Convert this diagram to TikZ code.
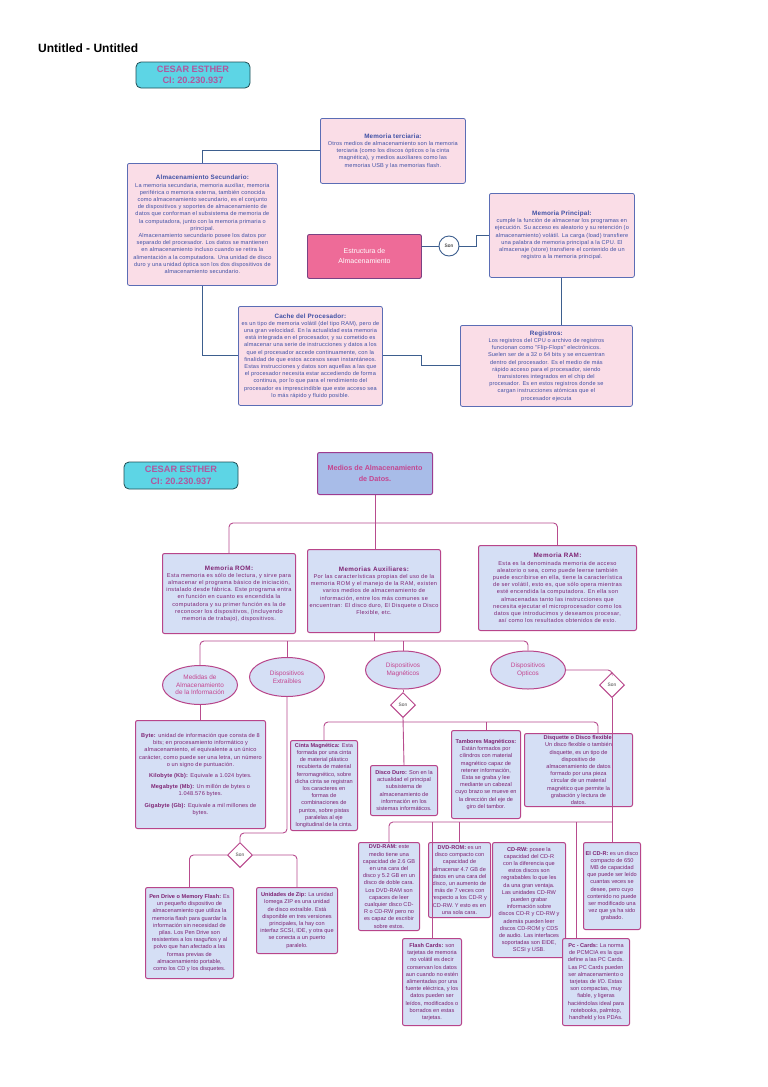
\documentclass[tikz,border=0pt]{standalone}
\usepackage{fontspec}
\setmainfont{Liberation Sans}
\newfontfamily\lsAfam[LetterSpace=3]{Liberation Sans}
\newfontfamily\lsBfam[LetterSpace=6]{Liberation Sans}
\usetikzlibrary{shapes.geometric,calc}
\definecolor{ufill}{HTML}{FADDE7}
\definecolor{ubord}{HTML}{5B6DB5}
\definecolor{utxt}{HTML}{3F51A5}
\definecolor{uline}{HTML}{3D5E8E}
\definecolor{efill}{HTML}{EE6B98}
\definecolor{ebord}{HTML}{7A4283}
\definecolor{lfill}{HTML}{D5DFF5}
\definecolor{lbord}{HTML}{B8458A}
\definecolor{ltxt}{HTML}{7E2373}
\definecolor{etxt}{HTML}{C4458F}
\definecolor{lline}{HTML}{B84C8E}
\definecolor{mfill}{HTML}{A8BCE8}
\definecolor{mbord}{HTML}{9C3C90}
\definecolor{cfill}{HTML}{5DD5E5}
\definecolor{cbord}{HTML}{1F4D55}
\definecolor{ctxt}{HTML}{B0589E}
\newcommand{\boxfont}{\fontsize{5.6}{7.2}\selectfont}
\newcommand{\boxA}{\lsAfam\fontsize{5.6}{7.2}\selectfont}
\newcommand{\boxB}{\lsBfam\fontsize{5.6}{7.2}\selectfont}
\newcommand{\hd}[1]{{\fontsize{6.3}{7.2}\selectfont\bfseries #1}}
\begin{document}
\begin{tikzpicture}[x=1pt,y=-1pt,
 upbox/.style={draw=ubord, fill=ufill, line width=0.8pt, rounded corners=2pt, align=center, text=utxt, font=\boxA, inner sep=1pt, anchor=north west},
 lowbox/.style={draw=lbord, fill=lfill, line width=1pt, rounded corners=2pt, align=center, text=ltxt, font=\boxfont, inner sep=1pt, anchor=north west},
 cesbox/.style={draw=cbord, fill=cfill, line width=0.8pt, rounded corners=5pt, align=center, text=ctxt, font=\fontsize{9.2}{11.5}\selectfont\bfseries, inner sep=0.5pt},
 ell/.style={ellipse, draw=lbord, fill=lfill, line width=1pt, align=center, text=etxt, font=\fontsize{6.4}{7.6}\selectfont, inner sep=0pt, minimum width=75pt, minimum height=39pt},
 sondia/.style={diamond, draw=lbord, fill=white, line width=1pt, font=\fontsize{4.8}{5}\selectfont, text=black!75, inner sep=0pt, minimum width=25pt, minimum height=25pt},
 upl/.style={draw=uline, line width=0.9pt},
 lowl/.style={draw=lline, line width=0.9pt, rounded corners=4pt},
]
\fill[white] (0,0) rectangle (768,1087);
\useasboundingbox (0,0) rectangle (768,1087);

% ---------------- top half ----------------
\node[anchor=base west, font=\fontsize{12}{14}\selectfont\bfseries, inner sep=0pt] (title) at (38,52) {Untitled - Untitled};
\node[cesbox, minimum width=114pt, minimum height=26pt] (ces1) at (193,75) {CESAR ESTHER\\CI: 20.230.937};

\node[upbox, minimum width=145pt, minimum height=65pt] (terc) at (320,118) {\hd{Memoria terciaria:}\\
Otros medios de almacenamiento son la memoria\\
terciaria (como los discos ópticos o la cinta\\
magnética), y medios auxiliares como las\\
memorias USB y las memorias flash.};

\node[upbox, minimum width=150pt, minimum height=122pt] (almsec) at (127,163) {\hd{Almacenamiento Secundario:}\\
La memoria secundaria, memoria auxiliar, memoria\\
periférica o memoria externa, también conocida\\
como almacenamiento secundario, es el conjunto\\
de dispositivos y soportes de almacenamiento de\\
datos que conforman el subsistema de memoria de\\
la computadora, junto con la memoria primaria o\\
principal.\\
Almacenamiento secundario posee los datos por\\
separado del procesador. Los datos se mantienen\\
en almacenamiento incluso cuando se retira la\\
alimentación a la computadora. Una unidad de disco\\
duro y una unidad óptica son los dos dispositivos de\\
almacenamiento secundario.};

\node[draw=ebord, fill=efill, line width=0.9pt, rounded corners=2pt, align=center, text=white, font=\fontsize{7}{10}\selectfont, minimum width=114pt, minimum height=44pt, anchor=north west] (estr) at (307,234) {Estructura de\\Almacenamiento};

\node[circle, draw=uline, fill=white, line width=0.9pt, minimum size=20pt, inner sep=0pt, font=\fontsize{4.8}{5}\selectfont] (son1) at (449,246) {Son};

\node[upbox, minimum width=145pt, minimum height=84pt] (mp) at (489,193) {\hd{Memoria Principal:}\\
cumple la función de almacenar los programas en\\
ejecución. Su acceso es aleatorio y su retención (o\\
almacenamiento) volátil. La carga (load) transfiere\\
una palabra de memoria principal a la CPU. El\\
almacenaje (store) transfiere el contenido de un\\
registro a la memoria principal.};

\node[upbox, minimum width=144pt, minimum height=99pt] (cache) at (238,306) {\hd{Cache del Procesador:}\\
es un tipo de memoria volátil (del tipo RAM), pero de\\
una gran velocidad. En la actualidad esta memoria\\
está integrada en el procesador, y su cometido es\\
almacenar una serie de instrucciones y datos a los\\
que el procesador accede continuamente, con la\\
finalidad de que estos accesos sean instantáneos.\\
Estas instrucciones y datos son aquellas a las que\\
el procesador necesita estar accediendo de forma\\
continua, por lo que para el rendimiento del\\
procesador es imprescindible que este acceso sea\\
lo más rápido y fluido posible.};

\node[upbox, minimum width=172pt, minimum height=81pt] (reg) at (460,325) {\hd{Registros:}\\
Los registros del CPU o archivo de registros\\
funcionan como "Flip-Flops" electrónicos.\\
Suelen ser de a 32 o 64 bits y se encuentran\\
dentro del procesador. Es el medio de más\\
rápido acceso para el procesador, siendo\\
transistores integrados en el chip del\\
procesador. Es en estos registros donde se\\
cargan instrucciones atómicas que el\\
procesador ejecuta};

\draw[upl] (almsec.north) |- (terc.west);
\draw[upl] (almsec.south) |- (cache.west);
\draw[upl] (cache.east) -- ++(39,0) |- (reg.west);
\draw[upl] (estr.east |- son1.west) -- (son1.west);
\draw[upl] (son1.east) -- ++(17,0) |- (mp.west);
\draw[upl] (mp.south) -- (mp.south |- reg.north);

% ---------------- bottom half ----------------
\node[cesbox, minimum width=114pt, minimum height=27pt] (ces2) at (181,475.5) {CESAR ESTHER\\CI: 20.230.937};

\node[draw=mbord, fill=mfill, line width=1pt, rounded corners=2pt, align=center, text=etxt, font=\fontsize{7.2}{11}\selectfont\bfseries, minimum width=115pt, minimum height=42pt, anchor=north west] (medios) at (317,452) {Medios de Almacenamiento\\de Datos.};

\node[lowbox, font=\boxB, minimum width=133pt, minimum height=80pt] (rom) at (162,553) {\hd{Memoria ROM:}\\
Esta memoria es sólo de lectura, y sirve para\\
almacenar el programa básico de iniciación,\\
instalado desde fábrica. Este programa entra\\
en función en cuanto es encendida la\\
computadora y su primer función es la de\\
reconocer los dispositivos, (incluyendo\\
memoria de trabajo), dispositivos.};

\node[lowbox, font=\boxB, minimum width=133pt, minimum height=83pt] (aux) at (307,549) {\hd{Memorias Auxiliares:}\\
Por las características propias del uso de la\\
memoria ROM y el manejo de la RAM, existen\\
varios medios de almacenamiento de\\
información, entre los más comunes se\\
encuentran: El disco duro, El Disquete o Disco\\
Flexible, etc.};

\node[lowbox, font=\boxB, minimum width=158pt, minimum height=85pt] (ram) at (478,545) {\hd{Memoria RAM:}\\
Esta es la denominada memoria de acceso\\
aleatorio o sea, como puede leerse también\\
puede escribirse en ella, tiene la característica\\
de ser volátil, esto es, que sólo opera mientras\\
esté encendida la computadora. En ella son\\
almacenadas tanto las instrucciones que\\
necesita ejecutar el microprocesador como los\\
datos que introducimos y deseamos procesar,\\
así como los resultados obtenidos de esto.};

\node[ell] (e1) at (200,685) {Medidas de\\Almacenamiento\\de la Información};
\node[ell] (e2) at (287,677) {Dispositivos\\Extraíbles};
\node[ell, minimum height=38pt] (e3) at (403,670) {Dispositivos\\Magnéticos};
\node[ell, minimum height=38pt] (e4) at (528,670) {Dispositivos\\Opticos};

\node[sondia] (son3) at (612,685) {Son};
\node[sondia] (son2) at (403,705) {Son};
\node[sondia] (son4) at (240,855) {Son};

\node[lowbox, font=\boxA, minimum width=130pt, minimum height=108pt] (byte) at (135,720) {\textbf{Byte:} unidad de información que consta de 8\\
bits; en procesamiento informático y\\
almacenamiento, el equivalente a un único\\
carácter, como puede ser una letra, un número\\
o un signo de puntuación.\\[4pt]
\textbf{Kilobyte (Kb):} Equivale a 1.024 bytes.\\[4pt]
\textbf{Megabyte (Mb):} Un millón de bytes o\\
1.048.576 bytes.\\[4pt]
\textbf{Gigabyte (Gb):} Equivale a mil millones de\\
bytes.};

\node[lowbox, minimum width=67pt, minimum height=90pt] (cinta) at (290,740) {\textbf{Cinta Magnética:} Esta\\
formada por una cinta\\
de material plástico\\
recubierta de material\\
ferromagnético, sobre\\
dicha cinta se registran\\
los caracteres en\\
formas de\\
combinaciones de\\
puntos, sobre pistas\\
paralelas al eje\\
longitudinal de la cinta.};

\node[lowbox, minimum width=67pt, minimum height=50pt] (disco) at (370,765) {\textbf{Disco Duro:} Son en la\\
actualidad el principal\\
subsistema de\\
almacenamiento de\\
información en los\\
sistemas informáticos.};

\node[lowbox, minimum width=69pt, minimum height=88pt] (tamb) at (451,730) {\textbf{Tambores Magnéticos:}\\
Están formados por\\
cilindros con material\\
magnético capaz de\\
retener información,\\
Esta se graba y lee\\
mediante un cabezal\\
cuyo brazo se mueve en\\
la dirección del eje de\\
giro del tambor.};

\node[lowbox, minimum width=108pt, minimum height=73pt] (disq) at (524,733) {\textbf{Disquette o Disco flexible:}\\
Un disco flexible o también\\
disquette, es un tipo de\\
dispositivo de\\
almacenamiento de datos\\
formado por una pieza\\
circular de un material\\
magnético que permite la\\
grabación y lectura de\\
datos.};

\node[lowbox, minimum width=88pt, minimum height=91pt] (pen) at (145,887) {\textbf{Pen Drive o Memory Flash:} Es\\
un pequeño dispositivo de\\
almacenamiento que utiliza la\\
memoria flash para guardar la\\
información sin necesidad de\\
pilas. Los Pen Drive son\\
resistentes a los rasguños y al\\
polvo que han afectado a las\\
formas previas de\\
almacenamiento portable,\\
como los CD y los disquetes.};

\node[lowbox, minimum width=81pt, minimum height=66pt] (zip) at (256,887) {\textbf{Unidades de Zip:} La unidad\\
Iomega ZIP es una unidad\\
de disco extraíble. Está\\
disponible en tres versiones\\
principales, la hay con\\
interfaz SCSI, IDE, y otra que\\
se conecta a un puerto\\
paralelo.};

\node[lowbox, minimum width=61pt, minimum height=88pt] (dvdram) at (358,842) {\textbf{DVD-RAM:} este\\
medio tiene una\\
capacidad de 2.6 GB\\
en una cara del\\
disco y 5.2 GB en un\\
disco de doble cara.\\
Los DVD-RAM son\\
capaces de leer\\
cualquier disco CD-\\
R o CD-RW pero no\\
es capaz de escribir\\
sobre estos.};

\node[lowbox, minimum width=62pt, minimum height=75pt] (dvdrom) at (428,842) {\textbf{DVD-ROM:} es un\\
disco compacto con\\
capacidad de\\
almacenar 4.7 GB de\\
datos en una cara del\\
disco, un aumento de\\
más de 7 veces con\\
respecto a los CD-R y\\
CD-RW. Y esto es en\\
una sola cara.};

\node[lowbox, minimum width=73pt, minimum height=115pt] (cdrw) at (492,842) {\textbf{CD-RW:} posee la\\
capacidad del CD-R\\
con la diferencia que\\
estos discos son\\
regrabables lo que les\\
da una gran ventaja.\\
Las unidades CD-RW\\
pueden grabar\\
información sobre\\
discos CD-R y CD-RW y\\
además pueden leer\\
discos CD-ROM y CDS\\
de audio. Las interfaces\\
soportadas son EIDE,\\
SCSI y USB.};

\node[lowbox, minimum width=57pt, minimum height=87pt] (cdr) at (583,842) {\textbf{El CD-R:} es un disco\\
compacto de 650\\
MB de capacidad\\
que puede ser leído\\
cuantas veces se\\
desee, pero cuyo\\
contenido no puede\\
ser modificado una\\
vez que ya ha sido\\
grabado.};

\node[lowbox, minimum width=59pt, minimum height=87pt] (flash) at (402,938) {\textbf{Flash Cards:} son\\
tarjetas de memoria\\
no volátil es decir\\
conservan los datos\\
aun cuando no estén\\
alimentadas por una\\
fuente eléctrica, y los\\
datos pueden ser\\
leídos, modificados o\\
borrados en estas\\
tarjetas.};

\node[lowbox, minimum width=67pt, minimum height=87pt] (pc) at (562,938) {\textbf{Pc - Cards:} La norma\\
de PCMCIA es la que\\
define a las PC Cards.\\
Las PC Cards pueden\\
ser almacenamiento o\\
tarjetas de I/O. Estas\\
son compactas, muy\\
fiable, y ligeras\\
haciéndolas ideal para\\
notebooks, palmtop,\\
handheld y los PDAs.};

% connectors
\coordinate (busA) at (374,523);
\coordinate (busB) at (374,641);
\coordinate (busC) at (612,822);
\coordinate (busD) at (403,722);
\coordinate (busE) at (287,833);
\coordinate (pctop) at (576,938);
\coordinate (dqtop) at (598,733);

\draw[lowl] (medios.south) -- (medios.south |- aux.north);
\draw[lowl] (rom.north) |- (busA) -| (ram.north);
\draw[lowl] (aux.south) -- (aux.south |- busB);
\draw[lowl] (e1.north) |- (busB) -| (e4.north);
\draw[lowl] (e2.north) -- (e2.north |- busB);
\draw[lowl] (e3.north) -- (e3.north |- busB);
\draw[lowl] (e4.east) -| (son3.north);
\draw[lowl] (son3.south) -- (son3.south |- cdr.north);
\draw[lowl] (dvdram.north) |- (busC);
\draw[lowl] (flash.north) -- (flash.north |- busC);
\draw[lowl] (dvdrom.north) -- (dvdrom.north |- busC);
\draw[lowl] (pctop) -- (pctop |- busC);
\draw[lowl] (e3.south) -- (son2.north);
\draw[lowl] (son2.south) -- (disco.north);
\draw[lowl] (cinta.north) |- (busD) -| (dqtop);
\draw[lowl] (tamb.north) -- (tamb.north |- busD);
\draw[lowl] (e1.south) -- (e1.south |- byte.north);
\draw[lowl] (e2.south) -- (busE) -| (son4.north);
\draw[lowl] (son4.west) -| (pen.north);
\draw[lowl] (son4.east) -| (zip.north);
\end{tikzpicture}
\end{document}
